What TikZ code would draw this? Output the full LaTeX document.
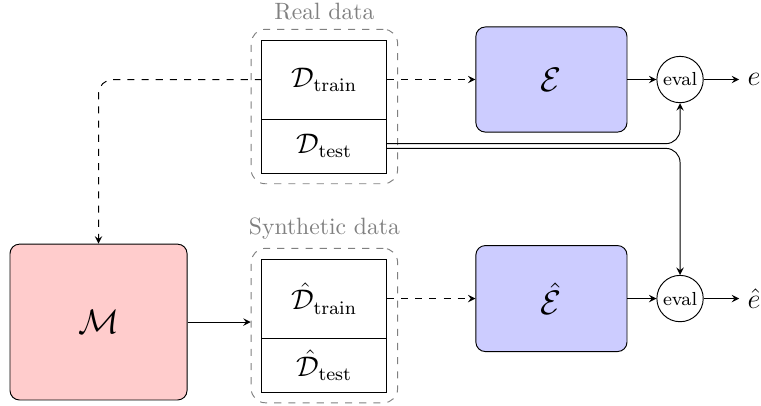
\documentclass[tikz,border=0pt]{standalone}
\usepackage{tikz}
\usetikzlibrary{positioning, fit, calc}

\begin{document}
\begin{tikzpicture}[datapart/.style={draw, 
      minimum width=1.86cm, 
      outer sep=0pt, 
      font=\large}, 
    model/.style={draw, 
      rounded corners=4pt, 
      fill=#1, 
      font=\Large}, 
    group/.style={draw=gray, 
      dashed, 
      rounded corners=6pt, 
      inner sep=0.16cm}, 
    evalnode/.style={draw, 
      circle, 
      inner sep=0pt, 
      minimum size=0.69cm, 
      font=\footnotesize}]
  \useasboundingbox (0,0) rectangle (11.33,-6.03);

  % REAL DATA

  \node [datapart, minimum height=1.176cm] (realtrain) at (4.83,-1.184) 
    {$\mathcal{D}_{\mathrm{train}}$};
  \node [datapart, minimum height=0.804cm, 
    below=0cm of realtrain] (realtest) {$\mathcal{D}_{\mathrm{test}}$};

  \node [group, fit=(realtrain) (realtest)] (realgroup) {};
  \node [gray, above=0cm of realgroup] (realtitle) {Real data};

  \node [model=blue!20, minimum width=2.25cm, minimum height=1.565cm] 
    (estimator) at (8.21,-1.184) {$\mathcal{E}$};
  \node [evalnode] (evalreal) at (10.125,-1.184) {eval};
  \node [font=\large] (ereal) at (11.225,-1.184) {$e$};

  % SYNTHETIC DATA

  \node [datapart, minimum height=1.176cm] (synthtrain) at (4.83,-4.445) 
    {$\hat{\mathcal{D}}_{\mathrm{train}}$};
  \node [datapart, minimum height=0.804cm, 
    below=0cm of synthtrain] (synthtest) {$\hat{\mathcal{D}}_{\mathrm{test}}$};

  \node [group, fit=(synthtrain) (synthtest)] (synthgroup) {};
  \node [gray, above=0cm of synthgroup] (synthtitle) {Synthetic data};

  \node [model=red!20, minimum width=2.636cm, minimum height=2.32cm] 
    (generator) at (1.467,-4.795) {$\mathcal{M}$};

  \node [model=blue!20, minimum width=2.25cm, minimum height=1.578cm] 
    (estimatorhat) at (8.21,-4.445) {$\hat{\mathcal{E}}$};
  \node [evalnode] (evalsynth) at (10.125,-4.445) {eval};
  \node [font=\large] (esynth) at (11.225,-4.445) {$\hat{e}$};

  % CONNECTIONS

  \draw[dashed, -stealth] (realtrain.east) -- (estimator.west);
  \draw[dashed, -stealth, rounded corners=6pt] (realtrain.west) 
  -| (generator.north);
  \draw[-stealth] (estimator.east) -- (evalreal.west);
  \draw[-stealth] (evalreal.east) -- (ereal.west);

  \draw[-stealth, rounded corners=6pt] ([yshift=1pt]realtest.east) 
  -| (evalreal.south);
  \draw[-stealth, rounded corners=6pt] ([yshift=-1pt]realtest.east) 
  -| (evalsynth.north);

  \draw[-stealth] (generator.east) -- (generator.east -| synthgroup.west);
  \draw[dashed, -stealth] (synthtrain.east) -- (estimatorhat.west);
  \draw[-stealth] (estimatorhat.east) -- (evalsynth.west);
  \draw[-stealth] (evalsynth.east) -- (esynth.west);

\end{tikzpicture}
\end{document}
